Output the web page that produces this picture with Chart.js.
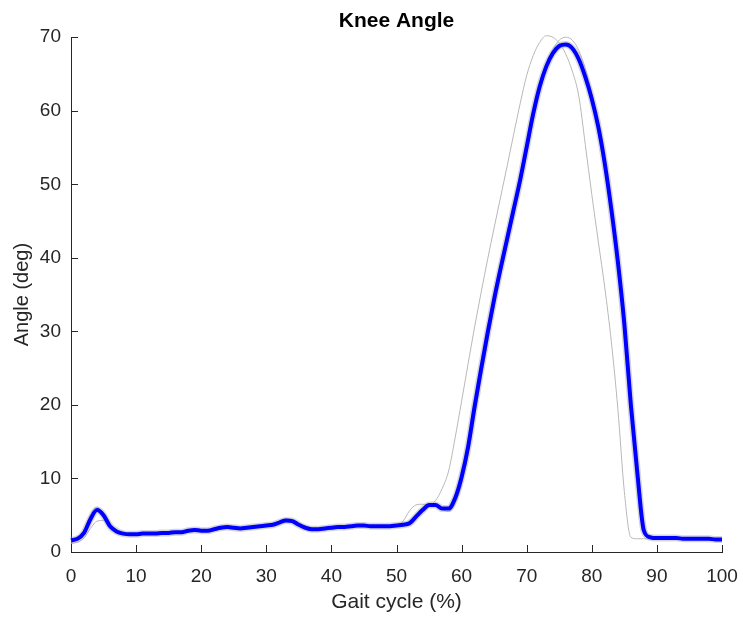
<!DOCTYPE html>
<html><head><meta charset="utf-8">
<script src="https://cdn.jsdelivr.net/npm/chart.js@4.4.1/dist/chart.umd.min.js"></script>
<style>html,body{margin:0;padding:0;background:#fff}</style>
</head><body>
<canvas id="c" width="743" height="618" style="display:block;width:743px;height:618px"></canvas>
<script>
// Gait cycle percent (x categories)
const gaitCycle = [0,1,2,3,4,5,6,7,8,9,10,11,12,13,14,15,16,17,18,19,20,21,22,23,24,25,26,27,28,29,30,31,32,33,34,35,36,37,38,39,40,41,42,43,44,45,46,47,48,49,50,51,52,53,54,55,56,57,58,59,60,61,62,63,64,65,66,67,68,69,70,71,72,73,74,75,76,77,78,79,80,81,82,83,84,85,86,87,88,89,90,91,92,93,94,95,96,97,98,99,100];

// Mean knee angle (blue)
const meanAngle = [1.6,1.8,2.6,4.5,5.7,5.0,3.5,2.8,2.5,2.4,2.4,2.5,2.5,2.5,2.6,2.6,2.7,2.7,2.9,3.0,2.9,2.9,3.1,3.3,3.4,3.3,3.2,3.3,3.4,3.5,3.6,3.7,4.0,4.3,4.2,3.7,3.3,3.1,3.1,3.2,3.3,3.4,3.4,3.5,3.6,3.6,3.5,3.5,3.5,3.5,3.6,3.7,3.9,4.8,5.7,6.4,6.4,5.9,5.9,7.3,10.2,14.3,19.8,24.9,29.8,34.4,38.6,42.6,46.6,50.6,55.1,59.6,63.3,66.0,67.8,68.8,69.0,68.5,67.0,64.6,61.6,57.8,52.8,46.6,39.5,31.0,20.0,10.7,2.9,2.0,1.9,1.9,1.9,1.9,1.8,1.8,1.8,1.8,1.8,1.7,1.7];

// Individual trial 1 (grey, earlier)
const trial1 = [1.4,1.7,2.8,5.1,6.1,5.3,3.6,2.8,2.5,2.4,2.4,2.5,2.6,2.6,2.6,2.7,2.7,2.8,3.0,3.1,3.0,2.9,3.1,3.3,3.3,3.3,3.2,3.3,3.4,3.5,3.6,3.7,4.0,4.2,4.0,3.6,3.3,3.2,3.2,3.3,3.3,3.4,3.4,3.5,3.5,3.5,3.5,3.5,3.5,3.5,3.6,4.2,5.6,6.4,6.5,6.4,7.0,8.6,11.0,15.5,20.5,25.6,30.6,35.3,39.8,44.1,48.3,52.5,56.8,61.0,64.8,67.5,69.3,70.2,70.0,69.2,67.7,65.4,62.0,55.4,48.6,42.2,35.9,28.6,19.5,8.2,2.0,1.8,1.8,1.8,1.8,1.8,1.8,1.8,1.8,1.8,1.8,1.8,1.7,1.7,1.7];

// Individual trial 2 (grey, close to mean)
const trial2 = [1.2,1.3,1.9,3.2,4.2,4.3,3.5,2.8,2.5,2.4,2.4,2.4,2.5,2.5,2.6,2.6,2.6,2.7,2.8,2.9,2.9,2.9,3.1,3.3,3.4,3.3,3.2,3.3,3.4,3.5,3.6,3.8,4.1,4.5,4.4,3.9,3.4,3.2,3.1,3.2,3.3,3.4,3.4,3.5,3.6,3.6,3.5,3.5,3.5,3.5,3.5,3.6,3.8,4.5,5.4,6.1,6.3,5.8,5.5,6.6,9.2,13.3,18.4,23.6,28.6,33.3,37.6,41.8,45.9,49.9,54.2,58.6,62.7,66.0,68.3,69.6,70.0,69.6,68.2,65.7,62.3,58.3,53.4,47.2,40.2,31.8,21.0,11.0,2.6,1.9,1.9,1.9,1.9,1.8,1.8,1.8,1.8,1.8,1.7,1.7,1.7];

// Tick labels
const xTicks = [0,10,20,30,40,50,60,70,80,90,100];
const yTicks = [0,10,20,30,40,50,60,70];

const pts = arr => gaitCycle.map((g,i)=>({x:g,y:arr[i]}));
const axisColor = '#262626';
const fam = 'Liberation Sans, Arial, sans-serif';

const inwardTicks = {
  id:'inwardTicks',
  afterDatasetsDraw(chart){
    const {ctx, chartArea:a, scales:{x,y}} = chart;
    ctx.save();
    ctx.strokeStyle = axisColor; ctx.lineWidth = 1;
    ctx.beginPath();
    x.ticks.forEach((t,i)=>{const px=Math.round(x.getPixelForTick(i))+0.5; ctx.moveTo(px,a.bottom); ctx.lineTo(px,a.bottom-7);});
    y.ticks.forEach((t,i)=>{const py=Math.round(y.getPixelForTick(i))+0.5; ctx.moveTo(a.left,py); ctx.lineTo(a.left+7,py);});
    ctx.stroke();
    ctx.restore();
  }
};

new Chart(document.getElementById('c'), {
  type:'line',
  data:{datasets:[
    {label:'Mean', data:pts(meanAngle), borderColor:'#0000ff', borderWidth:4, pointRadius:0, cubicInterpolationMode:'monotone', order:0, clip:6},
    {label:'Spread', data:pts(meanAngle), borderColor:'rgba(150,150,165,0.4)', borderWidth:7, pointRadius:0, cubicInterpolationMode:'monotone', order:1, clip:6},
    {label:'Trial 1', data:pts(trial1), borderColor:'#b8b8b8', borderWidth:1, pointRadius:0, cubicInterpolationMode:'monotone', order:2, clip:6},
    {label:'Trial 2', data:pts(trial2), borderColor:'#b8b8b8', borderWidth:1, pointRadius:0, cubicInterpolationMode:'monotone', order:3, clip:6}
  ]},
  options:{
    responsive:false, animation:false, devicePixelRatio:1,
    layout:{padding:{left:0,right:21,top:0,bottom:0}},
    plugins:{
      legend:{display:false}, tooltip:{enabled:false},
      title:{display:true, fullSize:false, text:'Knee Angle', color:'#000', font:{family:fam, size:21, weight:'bold'}, padding:{top:9,bottom:3}}
    },
    scales:{
      x:{type:'linear', min:0, max:100,
        afterFit(s){s.height=66; s.paddingLeft=0; s.paddingRight=0;},
        afterBuildTicks(s){s.ticks=xTicks.map(v=>({value:v}));},
        grid:{display:false, drawTicks:false},
        border:{display:true, color:axisColor, width:1},
        ticks:{color:axisColor, padding:13, maxRotation:0, font:{family:fam, size:19}},
        title:{display:true, text:'Gait cycle (%)', color:axisColor, font:{family:fam, size:21}, padding:{top:0,bottom:3}}
      },
      y:{type:'linear', min:0, max:70,
        afterFit(s){s.width=71; s.paddingTop=0; s.paddingBottom=0;},
        afterBuildTicks(s){s.ticks=yTicks.map(v=>({value:v}));},
        grid:{display:false, drawTicks:false},
        border:{display:true, color:axisColor, width:1},
        ticks:{color:axisColor, padding:10, font:{family:fam, size:19}},
        title:{display:true, text:'Angle (deg)', color:axisColor, font:{family:fam, size:20}, padding:{top:10,bottom:0}}
      }
    }
  },
  plugins:[inwardTicks]
});
</script>
</body></html>
